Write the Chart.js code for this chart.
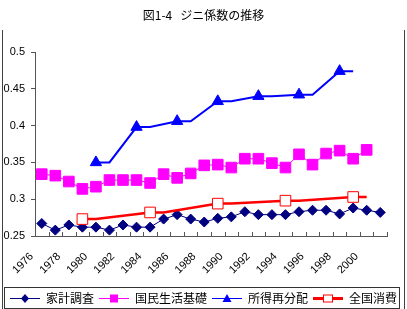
<!DOCTYPE html>
<html><head><meta charset="utf-8">
<script src="https://cdn.jsdelivr.net/npm/chart.js@4.4.1/dist/chart.umd.min.js"></script>
<style>html,body{margin:0;padding:0;background:#fff;}#wrap{width:407px;height:309px;position:relative;}</style>
</head><body><div id="wrap"><canvas id="c" width="407" height="309"></canvas></div>
<script>
const chartTitle = '図1-4   ジニ係数の推移';
const years = ['1976','1977','1978','1979','1980','1981','1982','1983','1984','1985','1986','1987','1988','1989','1990','1991','1992','1993','1994','1995','1996','1997','1998','1999','2000','2001'];
const seriesNames = ['家計調査','国民生活基礎','所得再分配','全国消費'];
const kakeiChosa = [0.267,0.258,0.265,0.262,0.262,0.258,0.265,0.262,0.262,0.273,0.279,0.273,0.269,0.274,0.276,0.283,0.279,0.279,0.279,0.283,0.285,0.285,0.280,0.288,0.285,0.282];
const kokuminSeikatsuKiso = [0.334,0.332,0.324,0.314,0.317,0.326,0.326,0.326,0.322,0.334,0.329,0.335,0.346,0.347,0.343,0.355,0.355,0.349,0.343,0.361,0.347,0.362,0.366,0.355,0.367,null];
const shotokuSaibunpai = [null,null,null,null,0.350,0.350,null,0.398,0.398,null,0.406,0.406,null,0.433,0.433,null,0.440,0.440,null,0.442,0.442,null,0.474,0.474,null,null];
const zenkokuShohi = [null,null,null,0.273,0.273,null,null,null,0.282,0.282,null,null,null,0.294,0.294,null,null,null,0.298,0.298,null,null,null,0.303,0.303,null];
const yMin = 0.25, yMax = 0.5, yStep = 0.05;

const firstOfRun = (r) => (ctx) => {
  const d = ctx.dataset.data, i = ctx.dataIndex;
  return (d[i] != null && (i === 0 || d[i-1] == null)) ? r : 0;
};

function legendSymbol(kind){
  const cv = document.createElement('canvas');
  cv.width = 30; cv.height = 12;
  const g = cv.getContext('2d');
  const cy = 6, cx = 15;
  if (kind === 0){
    g.strokeStyle = '#000080'; g.lineWidth = 1;
    g.beginPath(); g.moveTo(0,cy+0.5); g.lineTo(30,cy+0.5); g.stroke();
    g.fillStyle = '#000080';
    g.beginPath(); g.moveTo(cx,cy-4); g.lineTo(cx+4,cy+0.5); g.lineTo(cx,cy+5); g.lineTo(cx-4,cy+0.5); g.closePath(); g.fill();
  } else if (kind === 1){
    g.strokeStyle = '#FF00FF'; g.lineWidth = 1;
    g.beginPath(); g.moveTo(0,cy+0.5); g.lineTo(30,cy+0.5); g.stroke();
    g.fillStyle = '#FF00FF'; g.fillRect(cx-4,cy-3.5,8,8);
  } else if (kind === 2){
    g.strokeStyle = '#0000FF'; g.lineWidth = 1;
    g.beginPath(); g.moveTo(0,cy+0.5); g.lineTo(30,cy+0.5); g.stroke();
    g.fillStyle = '#0000FF';
    g.beginPath(); g.moveTo(cx,cy-4); g.lineTo(cx+4.5,cy+4); g.lineTo(cx-4.5,cy+4); g.closePath(); g.fill();
  } else {
    g.strokeStyle = '#FF0000'; g.lineWidth = 3;
    g.beginPath(); g.moveTo(0,cy+0.5); g.lineTo(30,cy+0.5); g.stroke();
    g.fillStyle = '#FFFFFF'; g.fillRect(cx-5,cy-3.5,10,8);
    g.lineWidth = 1; g.strokeRect(cx-4.5,cy-3,9,7);
  }
  return cv;
}

const decor = {
  id: 'decor',
  afterDraw(chart){
    const g = chart.ctx, n = years.length;
    g.save();
    g.strokeStyle = '#555'; g.lineWidth = 1;
    const ca = chart.chartArea;
    g.beginPath();
    for (let i = 0; i <= n; i++){
      const px = Math.round(ca.left + i*(ca.right-ca.left)/n) + 0.5;
      g.moveTo(px, ca.bottom); g.lineTo(px, ca.bottom - 4);
    }
    g.stroke();
    g.strokeStyle = '#404040';
    g.beginPath();
    g.moveTo(2.5, 30); g.lineTo(2.5, 309);
    g.moveTo(404.5, 30); g.lineTo(404.5, 309);
    g.stroke();
    g.strokeStyle = '#333';
    g.strokeRect(4.5, 287.5, 395, 21);
    g.restore();
  }
};

new Chart(document.getElementById('c'), {
  type: 'line',
  data: {
    labels: years,
    datasets: [
      {label: seriesNames[0], data: kakeiChosa, borderColor:'#000080', borderWidth:1, pointStyle:'rectRot', pointRadius:5, pointBackgroundColor:'#000080', pointBorderColor:'#000080', pointBorderWidth:1, order:4},
      {label: seriesNames[1], data: kokuminSeikatsuKiso, borderColor:'#FF00FF', borderWidth:1, pointStyle:'rect', pointRadius:7.5, pointBackgroundColor:'#FF00FF', pointBorderColor:'#FF00FF', pointBorderWidth:1, order:3},
      {label: seriesNames[2], data: shotokuSaibunpai, borderColor:'#0000FF', borderWidth:2, pointStyle:'triangle', pointRadius:firstOfRun(6.5), pointBackgroundColor:'#0000FF', pointBorderColor:'#0000FF', pointBorderWidth:1, spanGaps:true, order:2},
      {label: seriesNames[3], data: zenkokuShohi, borderColor:'#FF0000', borderWidth:2.5, pointStyle:'rect', pointRadius:firstOfRun(7.5), pointBackgroundColor:'#FFFFFF', pointBorderColor:'#FF0000', pointBorderWidth:1, spanGaps:true, order:1}
    ]
  },
  options: {
    responsive:false, animation:false, devicePixelRatio:1,
    layout:{padding:{left:0,right:0,top:0,bottom:-5}},
    elements:{line:{tension:0}},
    plugins:{
      tooltip:{enabled:false},
      title:{display:true, text:chartTitle, color:'#000', font:{family:'"Noto Sans CJK JP"', size:12, weight:'normal'}, padding:{top:8,bottom:29.6}},
      legend:{
        position:'bottom',
        labels:{
          usePointStyle:true, pointStyleWidth:30, boxHeight:12, padding:5, color:'#000',
          font:{family:'"Noto Sans CJK JP"', size:12},
          generateLabels:(chart)=> seriesNames.map((t,i)=>({text:t, pointStyle:legendSymbol(i), datasetIndex:i, hidden:false, fontColor:'#000', lineWidth:0, strokeStyle:'rgba(0,0,0,0)', fillStyle:'rgba(0,0,0,0)'}))
        }
      }
    },
    scales:{
      x:{
        type:'category', offset:true,
        grid:{display:true, offset:true, drawOnChartArea:false, drawTicks:false},
        border:{display:true, color:'#555', width:1},
        ticks:{autoSkip:false, minRotation:45, maxRotation:45, padding:14, labelOffset:-10, color:'#000', font:{family:'"Liberation Sans"', size:11},
          callback:(v,i)=> (i%2===0 ? years[i] : '')},
        afterFit:(s)=>{ s.height = 51; }
      },
      y:{
        min:yMin, max:yMax,
        grid:{display:true, drawOnChartArea:false, drawTicks:true, tickLength:4, color:'#555'},
        border:{display:true, color:'#555', width:1},
        ticks:{stepSize:yStep, padding:6, color:'#000', font:{family:'"Liberation Sans"', size:11},
          callback:(v)=> String(parseFloat(Number(v).toFixed(2)))},
        afterFit:(s)=>{ s.width = 35; }
      },
      yRight:{
        position:'right', display:true,
        grid:{display:false}, border:{display:false}, ticks:{display:false},
        afterFit:(s)=>{ s.width = 20; }
      }
    }
  },
  plugins:[decor]
});
</script></body></html>
